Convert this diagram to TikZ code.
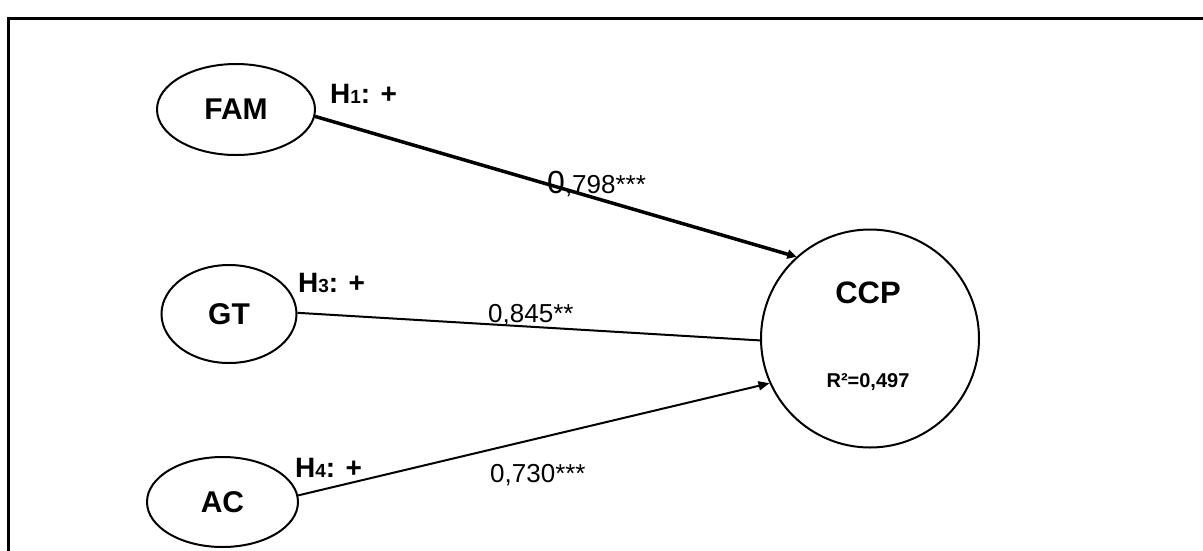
\documentclass[tikz,border=0pt]{standalone}
\usepackage{fontspec}
\setmainfont{Liberation Sans}
\usetikzlibrary{shapes.geometric,arrows.meta}
\tikzset{
  latent/.style={draw, ellipse, line width=2pt, inner sep=0pt, font=\fontsize{30}{30}\selectfont\bfseries},
  hyp/.style={anchor=base west, inner sep=0pt, font=\fontsize{28}{28}\selectfont\bfseries},
  coef/.style={anchor=base west, inner sep=0pt, font=\fontsize{26}{26}\selectfont},
  path1/.style={line width=2pt},
  tip/.style={-{Triangle[length=11pt,width=9pt]}}
}
\newcommand{\hsub}[1]{{\fontsize{19}{19}\selectfont #1}}
\begin{document}
\begin{tikzpicture}[x=1pt,y=-1pt]
\useasboundingbox (0,0) rectangle (1203,550);
% frame
\draw[line width=3pt] (8.5,560) -- (8.5,18) -- (1210,18);
% nodes
\node[latent, minimum width=158pt, minimum height=91pt] (FAM) at (236,109.5) {FAM};
\node[latent, minimum width=135pt, minimum height=98pt] (GT) at (229,314) {GT};
\node[latent, minimum width=151pt, minimum height=90pt] (AC) at (222.5,502) {AC};
\node[draw, circle, line width=2pt, minimum size=218pt, inner sep=0pt] (CCP) at (870,338.5) {};
\node[inner sep=0pt, anchor=base, font=\fontsize{31}{31}\selectfont\bfseries] (ccpt) at (868,303) {CCP};
\node[inner sep=0pt, anchor=base, font=\fontsize{20}{20}\selectfont\bfseries] (r2) at (868,387) {R²=0,497};
% hypothesis labels
\node[hyp] (h1) at (330,103) {H\hsub{1}: +};
\node[hyp] (h3) at (298,292) {H\hsub{3}: +};
\node[hyp] (h4) at (295,477) {H\hsub{4}: +};
% coefficients
\node[coef] (c1) at (547,193) {{\fontsize{32}{32}\selectfont 0},798***};
\node[coef] (c3) at (488,322) {0,845**};
\node[coef] (c4) at (490,482) {0,730***};
% connectors
\draw[line width=3.5pt, -{Triangle[length=9pt,width=9pt]}] (FAM.-5) -- (CCP.132.6);
\draw[path1] (GT.1) -- (CCP.181.3);
\draw[path1, tip] (AC.5.4) -- (CCP.204.2);
\end{tikzpicture}
\end{document}
